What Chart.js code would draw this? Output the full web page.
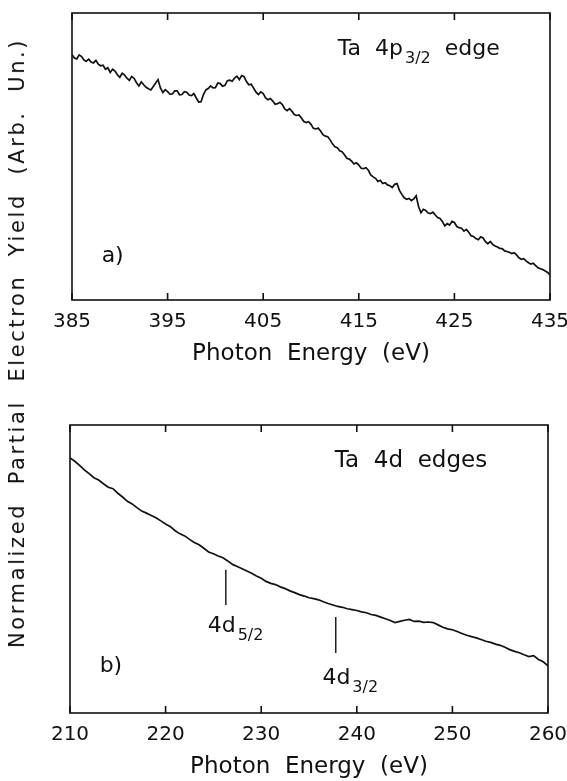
<!DOCTYPE html>
<html>
<head>
<meta charset="utf-8">
<script src="https://cdn.jsdelivr.net/npm/chart.js@4.4.0/dist/chart.umd.min.js"></script>
<style>
  body { margin: 0; background: #fff; }
  #wrap { position: relative; width: 567px; height: 781px; }
  #c1 { position: absolute; left: 0; top: 0; }
  #c2 { position: absolute; left: 0; top: 370px; }
  #ytitle {
    position: absolute; left: 17px; top: 343px;
    transform: translate(-50%, -50%) rotate(-90deg);
    white-space: nowrap; font: 21px "DejaVu Sans"; letter-spacing: 2.6px; color: #111;
  }
</style>
</head>
<body>
<div id="wrap">
  <canvas id="c1" width="567" height="370"></canvas>
  <canvas id="c2" width="567" height="411"></canvas>
  <div id="ytitle">Normalized&nbsp; Partial&nbsp; Electron&nbsp; Yield&nbsp; (Arb.&nbsp; Un.)</div>
</div>
<script>
// panel a) Ta 4p3/2 edge
const topEnergy = [
  385.0, 385.25, 385.5, 385.75, 386.0, 386.25, 386.5, 386.75,
  387.0, 387.25, 387.5, 387.75, 388.0, 388.25, 388.5, 388.75,
  389.0, 389.25, 389.5, 389.75, 390.0, 390.25, 390.5, 390.75,
  391.0, 391.25, 391.5, 391.75, 392.0, 392.25, 392.5, 392.75,
  393.0, 393.25, 393.5, 393.75, 394.0, 394.25, 394.5, 394.75,
  395.0, 395.25, 395.5, 395.75, 396.0, 396.25, 396.5, 396.75,
  397.0, 397.25, 397.5, 397.75, 398.0, 398.25, 398.5, 398.75,
  399.0, 399.25, 399.5, 399.75, 400.0, 400.25, 400.5, 400.75,
  401.0, 401.25, 401.5, 401.75, 402.0, 402.25, 402.5, 402.75,
  403.0, 403.25, 403.5, 403.75, 404.0, 404.25, 404.5, 404.75,
  405.0, 405.25, 405.5, 405.75, 406.0, 406.25, 406.5, 406.75,
  407.0, 407.25, 407.5, 407.75, 408.0, 408.25, 408.5, 408.75,
  409.0, 409.25, 409.5, 409.75, 410.0, 410.25, 410.5, 410.75,
  411.0, 411.25, 411.5, 411.75, 412.0, 412.25, 412.5, 412.75,
  413.0, 413.25, 413.5, 413.75, 414.0, 414.25, 414.5, 414.75,
  415.0, 415.25, 415.5, 415.75, 416.0, 416.25, 416.5, 416.75,
  417.0, 417.25, 417.5, 417.75, 418.0, 418.25, 418.5, 418.75,
  419.0, 419.25, 419.5, 419.75, 420.0, 420.25, 420.5, 420.75,
  421.0, 421.25, 421.5, 421.75, 422.0, 422.25, 422.5, 422.75,
  423.0, 423.25, 423.5, 423.75, 424.0, 424.25, 424.5, 424.75,
  425.0, 425.25, 425.5, 425.75, 426.0, 426.25, 426.5, 426.75,
  427.0, 427.25, 427.5, 427.75, 428.0, 428.25, 428.5, 428.75,
  429.0, 429.25, 429.5, 429.75, 430.0, 430.25, 430.5, 430.75,
  431.0, 431.25, 431.5, 431.75, 432.0, 432.25, 432.5, 432.75,
  433.0, 433.25, 433.5, 433.75, 434.0, 434.25, 434.5, 434.75,
  435.0
];
const topYield = [
  85.5, 84.3, 84.0, 85.4, 84.8, 83.6, 83.2, 83.9,
  82.9, 82.6, 83.5, 82.2, 81.6, 81.8, 80.4, 80.9,
  79.3, 80.4, 79.8, 78.5, 77.6, 79.0, 78.4, 77.3,
  76.5, 77.9, 77.2, 75.7, 74.6, 76.0, 75.0, 74.1,
  73.6, 73.2, 74.4, 75.6, 76.8, 73.9, 72.3, 73.3,
  72.6, 71.7, 71.8, 72.9, 72.9, 71.5, 71.6, 72.6,
  72.4, 71.4, 71.2, 71.9, 70.4, 69.0, 69.1, 71.6,
  73.2, 73.7, 74.6, 73.9, 74.0, 75.6, 75.4, 74.5,
  74.8, 76.4, 76.6, 76.2, 77.3, 78.0, 76.8, 78.2,
  77.8, 76.1, 75.0, 75.2, 73.8, 72.4, 71.6, 72.5,
  71.9, 70.4, 69.8, 70.2, 69.3, 68.2, 68.4, 68.9,
  68.1, 66.6, 66.0, 66.7, 65.8, 64.6, 64.3, 64.5,
  63.4, 62.2, 61.8, 62.1, 61.2, 59.8, 59.6, 59.9,
  58.9, 57.6, 57.1, 56.9, 55.8, 54.4, 53.4, 53.1,
  52.0, 51.7, 50.6, 49.4, 49.1, 48.4, 47.4, 47.8,
  47.0, 45.9, 45.8, 46.1, 45.2, 43.6, 42.9, 42.4,
  41.3, 41.7, 40.6, 40.9, 40.1, 39.8, 39.2, 40.3,
  40.6, 38.2, 36.8, 35.6, 35.1, 35.4, 34.6, 35.2,
  36.3, 32.6, 30.4, 31.6, 31.2, 30.3, 30.1, 30.6,
  29.6, 28.7, 28.4, 27.3, 25.8, 26.6, 26.1, 27.4,
  27.0, 25.6, 25.2, 25.0, 24.0, 24.6, 23.6, 22.4,
  22.1, 21.4, 21.0, 22.0, 21.6, 20.3, 19.6, 20.4,
  19.4, 18.8, 18.5, 18.0, 17.9, 17.1, 16.9, 16.6,
  16.2, 16.5, 15.7, 14.7, 14.2, 14.4, 13.6, 13.0,
  12.5, 12.8, 12.0, 11.2, 10.9, 10.6, 10.1, 9.6,
  8.7
];
const topTicks = [385, 395, 405, 415, 425, 435];

// panel b) Ta 4d edges
const botEnergy = [
  210.0, 210.5, 211.0, 211.5, 212.0, 212.5, 213.0, 213.5, 214.0, 214.5,
  215.0, 215.5, 216.0, 216.5, 217.0, 217.5, 218.0, 218.5, 219.0, 219.5,
  220.0, 220.5, 221.0, 221.5, 222.0, 222.5, 223.0, 223.5, 224.0, 224.5,
  225.0, 225.5, 226.0, 226.5, 227.0, 227.5, 228.0, 228.5, 229.0, 229.5,
  230.0, 230.5, 231.0, 231.5, 232.0, 232.5, 233.0, 233.5, 234.0, 234.5,
  235.0, 235.5, 236.0, 236.5, 237.0, 237.5, 238.0, 238.5, 239.0, 239.5,
  240.0, 240.5, 241.0, 241.5, 242.0, 242.5, 243.0, 243.5, 244.0, 244.5,
  245.0, 245.5, 246.0, 246.5, 247.0, 247.5, 248.0, 248.5, 249.0, 249.5,
  250.0, 250.5, 251.0, 251.5, 252.0, 252.5, 253.0, 253.5, 254.0, 254.5,
  255.0, 255.5, 256.0, 256.5, 257.0, 257.5, 258.0, 258.5, 259.0, 259.5,
  260.0
];
const botYield = [
  88.6, 87.4, 86.0, 84.4, 83.1, 81.7, 80.9, 79.6, 78.4, 77.9,
  76.3, 75.0, 73.5, 72.6, 71.3, 70.1, 69.4, 68.6, 67.8, 66.7,
  65.6, 64.7, 63.3, 62.2, 61.5, 60.3, 59.2, 58.4, 57.2, 55.9,
  55.3, 54.5, 53.9, 52.8, 51.6, 50.9, 50.1, 49.3, 48.5, 47.6,
  46.8, 45.7, 45.0, 44.6, 43.8, 43.2, 42.4, 41.8, 41.1, 40.6,
  40.0, 39.7, 39.3, 38.6, 38.0, 37.5, 37.0, 36.7, 36.2, 35.9,
  35.6, 35.1, 34.8, 34.2, 33.9, 33.3, 32.7, 32.1, 31.4, 31.8,
  32.2, 32.5, 31.8, 31.9, 31.5, 31.6, 31.4, 30.6, 29.8, 29.2,
  28.9, 28.3, 27.6, 27.0, 26.5, 26.1, 25.5, 24.9, 24.5, 23.9,
  23.5, 22.8, 22.0, 21.4, 20.9, 20.2, 19.6, 19.9, 18.6, 17.8,
  16.4
];
const botTicks = [210, 220, 230, 240, 250, 260];

// edge markers: energy, line from / to
const edgeNames = ['4d5/2', '4d3/2'];
const edgeEnergy = [226.3, 237.8];
const edgeTop = [49.7, 33.3];
const edgeBottom = [37.5, 20.8];

const ink = '#111';
const font = '"DejaVu Sans", sans-serif';

// frame + inward ticks + text notes
const framePlugin = {
  id: 'frame',
  afterDraw(chart, args, opts) {
    const { ctx, chartArea: { top, bottom, left, right } } = chart;
    const xs = chart.scales.x;
    const ys = chart.scales.y;
    ctx.save();
    ctx.strokeStyle = ink;
    ctx.lineWidth = 1.6;
    ctx.strokeRect(left, top, right - left, bottom - top);
    xs.ticks.forEach((t) => {
      const px = xs.getPixelForValue(t.value);
      ctx.beginPath();
      ctx.moveTo(px, bottom);
      ctx.lineTo(px, bottom - 7);
      ctx.moveTo(px, top);
      ctx.lineTo(px, top + 7);
      ctx.stroke();
    });

    ctx.fillStyle = ink;
    ctx.textAlign = 'left';
    ctx.textBaseline = 'alphabetic';
    (opts.notes || []).forEach((n) => {
      let px = xs.getPixelForValue(n.x);
      const py = ys.getPixelForValue(n.y);
      const main = (n.size || 22) + 'px ' + font;
      ctx.font = main;
      ctx.fillText(n.text, px, py);
      px += ctx.measureText(n.text).width;
      if (n.sub) {
        ctx.font = '16px ' + font;
        ctx.fillText(n.sub, px + 2, py + 8);
        px += ctx.measureText(n.sub).width + 2;
      }
      if (n.after) {
        ctx.font = main;
        ctx.fillText(n.after, px, py);
      }
    });
    ctx.restore();
  },
};

function xScale(min, max, ticks, height, titlePad) {
  return {
    type: 'linear',
    min: min,
    max: max,
    afterBuildTicks: (scale) => {
      scale.ticks = ticks.map((v) => ({ value: v }));
    },
    afterFit: (scale) => {
      scale.height = height;
      scale.paddingLeft = 0;
      scale.paddingRight = 0;
    },
    grid: { display: false, drawTicks: false },
    border: { display: false },
    ticks: {
      color: ink,
      padding: 10,
      maxRotation: 0,
      autoSkip: false,
      font: { family: font, size: 20 },
    },
    title: {
      display: true,
      text: 'Photon  Energy  (eV)',
      color: ink,
      font: { family: font, size: 23 },
      padding: { top: 0, bottom: titlePad },
    },
  };
}

const yScale = { type: 'linear', min: 0, max: 100, display: false };

const lineStyle = {
  borderColor: ink,
  borderWidth: 1.7,
  pointRadius: 0,
  tension: 0,
  fill: false,
};

new Chart(document.getElementById('c1'), {
  type: 'line',
  data: {
    datasets: [
      {
        ...lineStyle,
        data: topEnergy.map((e, i) => ({ x: e, y: topYield[i] })),
      },
    ],
  },
  options: {
    responsive: false,
    animation: false,
    layout: { padding: { left: 72, right: 17, top: 13, bottom: 0 } },
    scales: { x: xScale(385, 435, topTicks, 70, 2), y: yScale },
    plugins: {
      legend: { display: false },
      tooltip: { enabled: false },
      frame: {
        notes: [
          { text: 'Ta  4p', sub: '3/2', after: '  edge', x: 412.8, y: 85.4 },
          { text: 'a)', x: 388.1, y: 13.2 },
        ],
      },
    },
  },
  plugins: [framePlugin],
});

const edgeSets = edgeEnergy.map((e, i) => ({
  ...lineStyle,
  borderWidth: 1.4,
  data: [{ x: e, y: edgeTop[i] }, { x: e, y: edgeBottom[i] }],
}));

new Chart(document.getElementById('c2'), {
  type: 'line',
  data: {
    datasets: [
      {
        ...lineStyle,
        data: botEnergy.map((e, i) => ({ x: e, y: botYield[i] })),
      },
      ...edgeSets,
    ],
  },
  options: {
    responsive: false,
    animation: false,
    layout: { padding: { left: 70, right: 19, top: 55, bottom: 0 } },
    scales: { x: xScale(210, 260, botTicks, 68, 0), y: yScale },
    plugins: {
      legend: { display: false },
      tooltip: { enabled: false },
      frame: {
        notes: [
          { text: 'Ta  4d  edges', size: 23, x: 237.7, y: 85.4 },
          { text: 'b)', x: 213.1, y: 14.2 },
          { text: edgeNames[0].slice(0, 2), sub: edgeNames[0].slice(2), x: 224.4, y: 28.1 },
          { text: edgeNames[1].slice(0, 2), sub: edgeNames[1].slice(2), x: 236.4, y: 10.1 },
        ],
      },
    },
  },
  plugins: [framePlugin],
});
</script>
</body>
</html>
